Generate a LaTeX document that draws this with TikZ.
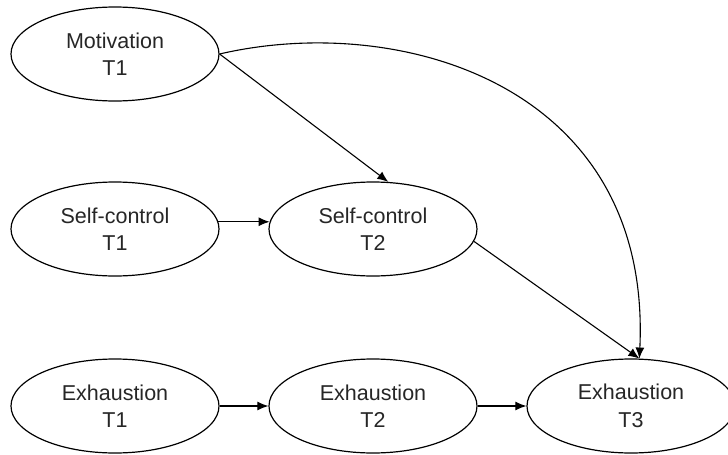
\documentclass[tikz,border=0pt]{standalone}
\usepackage{fontspec}
\setmainfont{Liberation Sans}
\usepackage{tikz}
\usetikzlibrary{shapes.geometric, arrows.meta}
\usetikzlibrary{positioning}
\tikzstyle{latent} = [ellipse, minimum width=208pt, minimum height=94pt, inner sep=0pt, align=center, draw=black, line width=1.2pt, text=black!85, font=\fontsize{21.5}{27.5}\selectfont]
\tikzstyle{arrow} = [line width=1.1pt, -{Latex[length=11pt, width=9pt]}]

\begin{document}
\begin{tikzpicture}[x=1pt, y=-1pt, node distance = 258pt]
                                \useasboundingbox (0,0) rectangle (728,455);
                                \clip (0,0) rectangle (728,455);
                                \node (M1) [latent] at (115,54) {Motivation\\T1};
                                \node (S1) [latent, below of = M1, node distance = 175pt] {Self-control\\T1};
                                \node (S2) [latent, right of = S1] {Self-control\\T2};
                                \node (E1) [latent, below of = S1, node distance = 177pt] {Exhaustion\\T1};
                                \node (E2) [latent, right of = E1] {Exhaustion\\T2};
                                \node (E3) [latent, right of = E2] {Exhaustion\\T3};
                                \draw [arrow] (S1.4) -- (S2.176);
                                \draw [arrow] (E1) -- (E2);
                                \draw [arrow] (E2) -- (E3);
                                \draw [arrow] (M1.east) -- (S2.72);
                                \draw [arrow] (S2.-7) -- (E3.80);
                                \draw [arrow] (M1.east) .. controls (400,12) and (652,85) .. (E3.80);
                            \end{tikzpicture}
\end{document}
